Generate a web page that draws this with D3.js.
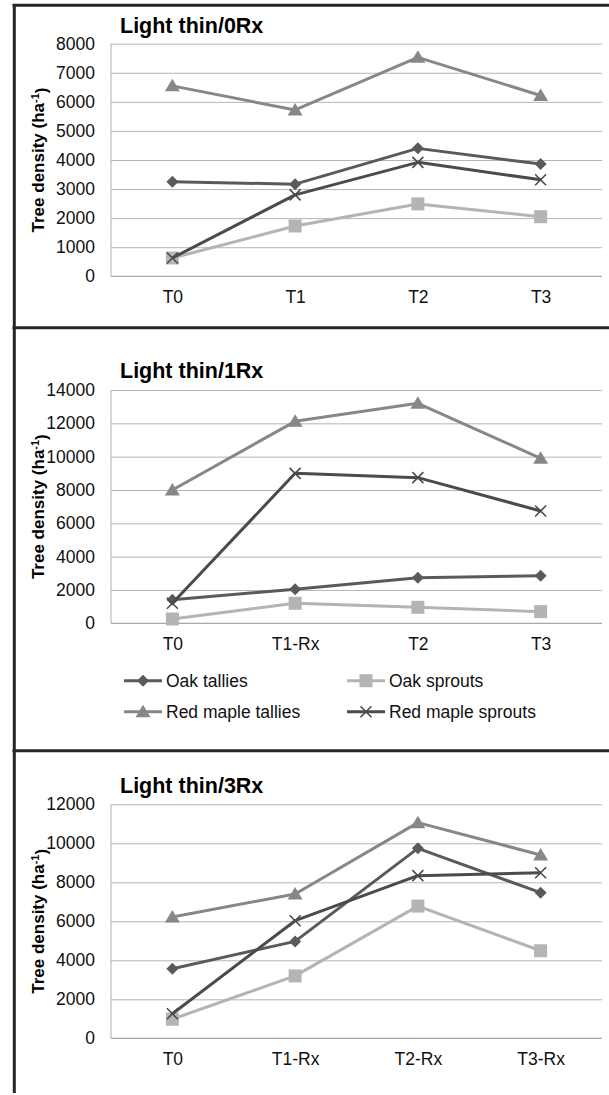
<!DOCTYPE html>
<html>
<head>
<meta charset="utf-8">
<script src="https://cdn.jsdelivr.net/npm/d3@7/dist/d3.min.js"></script>
<style>
  html,body{margin:0;padding:0;background:#fff;}
  svg{display:block;}
  text{font-family:"Liberation Sans", Arial, sans-serif;}
</style>
</head>
<body>
<svg id="chart" width="609" height="1095"></svg>
<script>
// ---------------- DATA ----------------
const seriesNames = ["Oak tallies", "Oak sprouts", "Red maple tallies", "Red maple sprouts"];

const panelTitles = ["Light thin/0Rx", "Light thin/1Rx", "Light thin/3Rx"];

const cats0Rx = ["T0", "T1", "T2", "T3"];
const cats1Rx = ["T0", "T1-Rx", "T2", "T3"];
const cats3Rx = ["T0", "T1-Rx", "T2-Rx", "T3-Rx"];

const yTicks0Rx = [0, 1000, 2000, 3000, 4000, 5000, 6000, 7000, 8000];
const yTicks1Rx = [0, 2000, 4000, 6000, 8000, 10000, 12000, 14000];
const yTicks3Rx = [0, 2000, 4000, 6000, 8000, 10000, 12000];

// Light thin / 0Rx
const oakTallies0Rx      = [3250, 3170, 4400, 3860];
const oakSprouts0Rx      = [630, 1730, 2490, 2050];
const redMapleTallies0Rx = [6550, 5720, 7530, 6220];
const redMapleSprouts0Rx = [630, 2800, 3920, 3320];

// Light thin / 1Rx
const oakTallies1Rx      = [1420, 2040, 2740, 2860];
const oakSprouts1Rx      = [260, 1200, 960, 700];
const redMapleTallies1Rx = [8000, 12120, 13200, 9900];
const redMapleSprouts1Rx = [1200, 9000, 8740, 6740];

// Light thin / 3Rx
const oakTallies3Rx      = [3570, 4970, 9740, 7470];
const oakSprouts3Rx      = [980, 3200, 6780, 4490];
const redMapleTallies3Rx = [6220, 7400, 11060, 9400];
const redMapleSprouts3Rx = [1260, 6030, 8340, 8490];

// ---------------- STYLE / LAYOUT ----------------
const seriesColors = ["#5a5a5a", "#b4b4b4", "#878787", "#4b4b4b"];
const seriesMarkers = ["diamond", "square", "triangle", "cross"];

const panels = [
  {title: panelTitles[0], cats: cats0Rx, ticks: yTicks0Rx,
   values: [oakTallies0Rx, oakSprouts0Rx, redMapleTallies0Rx, redMapleSprouts0Rx],
   top: 43.7, bottom: 276.3, titleY: 32.5, legend: false},
  {title: panelTitles[1], cats: cats1Rx, ticks: yTicks1Rx,
   values: [oakTallies1Rx, oakSprouts1Rx, redMapleTallies1Rx, redMapleSprouts1Rx],
   top: 390, bottom: 623.3, titleY: 377.5, legend: true},
  {title: panelTitles[2], cats: cats3Rx, ticks: yTicks3Rx,
   values: [oakTallies3Rx, oakSprouts3Rx, redMapleTallies3Rx, redMapleSprouts3Rx],
   top: 804.3, bottom: 1038.3, titleY: 792.5, legend: false}
];

const plotLeft = 111, plotRight = 602;
const svg = d3.select("#chart");
svg.append("rect").attr("width", 609).attr("height", 1095).attr("fill", "#fff");

function markerPath(type) {
  switch (type) {
    case "diamond": { const r = 6; return `M0,${-r}L${r},0L0,${r}L${-r},0Z`; }
    case "square": { const r = 6.5; return `M${-r},${-r}H${r}V${r}H${-r}Z`; }
    case "triangle": { return `M0,-7L7.5,5.5L-7.5,5.5Z`; }
    case "cross": { const r = 5.5; return `M${-r},${-r}L${r},${r}M${r},${-r}L${-r},${r}`; }
  }
}

function drawMarker(g, type, color, x, y) {
  const p = g.append("path").attr("d", markerPath(type))
    .attr("transform", `translate(${x},${y})`);
  if (type === "cross") {
    p.attr("fill", "none").attr("stroke", color).attr("stroke-width", 1.6);
  } else {
    p.attr("fill", color).attr("stroke", "none");
  }
}

panels.forEach(panel => {
  const g = svg.append("g");
  const x = d3.scalePoint().domain(panel.cats).range([plotLeft, plotRight]).padding(0.5);
  const yMax = panel.ticks[panel.ticks.length - 1];
  const y = d3.scaleLinear().domain([0, yMax]).range([panel.bottom, panel.top]);

  // gridlines
  const grid = g.append("g").attr("transform", `translate(${plotLeft},0)`)
    .call(d3.axisLeft(y).tickValues(panel.ticks.slice(1)).tickSize(-(plotRight - plotLeft)).tickFormat(""));
  grid.select(".domain").remove();
  grid.selectAll("line").attr("stroke", "#b5b5b5").attr("stroke-width", 1);

  // left plot line and bottom axis line
  g.append("line").attr("x1", plotLeft).attr("x2", plotLeft)
    .attr("y1", y(yMax)).attr("y2", y(0)).attr("stroke", "#b0b0b0").attr("stroke-width", 1);
  g.append("line").attr("x1", plotLeft).attr("x2", plotRight)
    .attr("y1", y(0)).attr("y2", y(0)).attr("stroke", "#a8a8a8").attr("stroke-width", 1.2);

  // y tick labels
  const yAx = g.append("g").attr("transform", `translate(${plotLeft},0)`)
    .call(d3.axisLeft(y).tickValues(panel.ticks).tickSize(0).tickPadding(16).tickFormat(d3.format("d")));
  yAx.select(".domain").remove();
  yAx.selectAll("text").attr("font-size", 17.5).attr("fill", "#111")
    .attr("font-family", "Liberation Sans, Arial, sans-serif");

  // x labels
  const xAx = g.append("g").attr("transform", `translate(0,${panel.bottom})`)
    .call(d3.axisBottom(x).tickSize(0).tickPadding(14));
  xAx.select(".domain").remove();
  xAx.selectAll("text").attr("font-size", 17.5).attr("fill", "#111")
    .attr("font-family", "Liberation Sans, Arial, sans-serif");

  // title
  g.append("text").attr("x", 120).attr("y", panel.titleY)
    .attr("font-size", 21.5).attr("font-weight", "bold").attr("fill", "#000")
    .text(panel.title);

  // y axis title
  const cy = (panel.top + panel.bottom) / 2;
  const yt = g.append("text").attr("transform", `translate(44,${cy}) rotate(-90)`)
    .attr("text-anchor", "middle").attr("font-size", 17).attr("font-weight", "bold").attr("fill", "#000");
  yt.append("tspan").text("Tree density (ha");
  yt.append("tspan").attr("dy", "-0.45em").attr("font-size", 11).text("-1");
  yt.append("tspan").attr("dy", "0.45em").text(")");

  // lines + markers
  const line = d3.line().x((d, i) => x(panel.cats[i])).y(d => y(d));
  panel.values.forEach((vals, si) => {
    g.append("path").datum(vals).attr("d", line)
      .attr("fill", "none").attr("stroke", seriesColors[si]).attr("stroke-width", 3)
      .attr("stroke-linejoin", "round");
    vals.forEach((v, i) => drawMarker(g, seriesMarkers[si], seriesColors[si], x(panel.cats[i]), y(v)));
  });

  // legend
  if (panel.legend) {
    const legendPos = [[124, 680.7], [347, 680.7], [124, 711.7], [347, 711.7]];
    seriesNames.forEach((name, si) => {
      const [lx, ly] = legendPos[si];
      g.append("line").attr("x1", lx).attr("x2", lx + 38).attr("y1", ly).attr("y2", ly)
        .attr("stroke", seriesColors[si]).attr("stroke-width", 3);
      drawMarker(g, seriesMarkers[si], seriesColors[si], lx + 19, ly);
      g.append("text").attr("x", lx + 42).attr("y", ly).attr("dy", "0.35em")
        .attr("font-size", 17.5).attr("fill", "#111").text(name);
    });
  }
});

// frame lines
const frame = svg.append("g").attr("stroke", "#262626").attr("stroke-width", 3);
frame.append("line").attr("x1", 12.5).attr("x2", 609).attr("y1", 5.3).attr("y2", 5.3);
frame.append("line").attr("x1", 14.3).attr("x2", 14.3).attr("y1", 4).attr("y2", 1093);
frame.append("line").attr("x1", 12.5).attr("x2", 609).attr("y1", 327.7).attr("y2", 327.7);
frame.append("line").attr("x1", 12.5).attr("x2", 609).attr("y1", 750.7).attr("y2", 750.7);
</script>
</body>
</html>
